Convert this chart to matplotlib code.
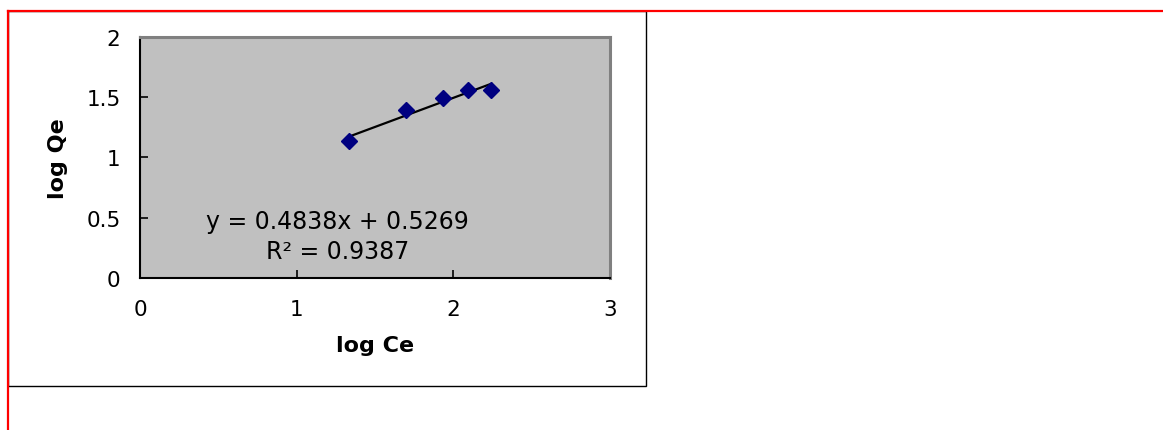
import numpy as np
import matplotlib
matplotlib.use("Agg")
import matplotlib.pyplot as plt
from matplotlib.lines import Line2D
from matplotlib.patches import Rectangle

# data
log_ce = [1.336, 1.698, 1.932, 2.096, 2.243]
log_qe = [1.134, 1.394, 1.494, 1.561, 1.558]
slope = 0.4838
intercept = 0.5269
r2 = 0.9387

W, H = 1163, 431
fig = plt.figure(figsize=(W / 100, H / 100), dpi=100)

# page decoration: red margin lines and black chart frame
fig.add_artist(Line2D([8 / W, 1], [1 - 11.5 / H, 1 - 11.5 / H], color="red", lw=1.6))
fig.add_artist(Line2D([8 / W, 8 / W], [0, 1 - 11.5 / H], color="red", lw=1.6))
fig.add_artist(Rectangle((8 / W, 1 - 387 / H), (646 - 8) / W, (387 - 12) / H,
                         fill=False, edgecolor="black", lw=1.0))

ax = fig.add_axes([140 / W, 1 - 278.7 / H, 470 / W, 240.7 / H])
ax.set_facecolor("#c0c0c0")

ax.plot(log_ce, log_qe, linestyle="none", marker="D", ms=8.5,
        color="#000080", zorder=3)

xs = np.array([min(log_ce), max(log_ce)])
ax.plot(xs, slope * xs + intercept, color="black", lw=1.6, zorder=2)

ax.text(1.26, 0.345, "y = %.4fx + %.4f\nR² = %.4f" % (slope, intercept, r2),
        ha="center", va="center", multialignment="center",
        fontsize=17, linespacing=1.3)

ax.set_xlim(0, 3)
ax.set_ylim(0, 2)
ax.set_xticks([0, 1, 2, 3])
ax.set_yticks([0, 0.5, 1, 1.5, 2])
ax.set_yticklabels(["0", "0.5", "1", "1.5", "2"])
ax.tick_params(direction="in", length=6, width=1.2, labelsize=15.5, pad=14)
ax.tick_params(axis="x", pad=15)

for s in ["left", "bottom"]:
    ax.spines[s].set_color("black")
    ax.spines[s].set_linewidth(1.5)
for s in ["top", "right"]:
    ax.spines[s].set_color("#808080")
    ax.spines[s].set_linewidth(2.2)

ax.set_xlabel("log Ce", fontsize=16, fontweight="bold", labelpad=12)
ax.set_ylabel("log Qe", fontsize=16, fontweight="bold", labelpad=13)

fig.savefig("out.png", dpi=100)
